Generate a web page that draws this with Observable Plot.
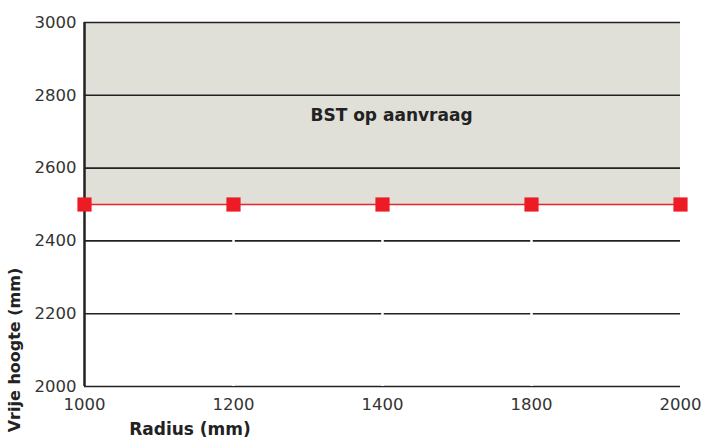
<!DOCTYPE html>
<html>
<head>
<meta charset="utf-8">
<script src="https://cdn.jsdelivr.net/npm/d3@7"></script>
<script src="https://cdn.jsdelivr.net/npm/@observablehq/plot@0.6"></script>
<style>
  body { margin: 0; background: #fff; }
  #chart svg { display: block; }
</style>
</head>
<body>
<div id="chart"></div>
<script>
// Data
const radius = [1000, 1200, 1400, 1800, 2000];          // x categories (mm)
const clearance = [2500, 2500, 2500, 2500, 2500];        // vrije hoogte (mm)
const yTicks = [2000, 2200, 2400, 2600, 2800, 3000];
const yMax = 3000;
const annotation = [{x: 1400, y: 2745, label: "BST op aanvraag"}];
const xTitle = "Radius (mm)";
const yTitle = "Vrije hoogte (mm)";

const rows = radius.map((r, i) => ({x: r, y: clearance[i], top: yMax}));
const inner = radius.slice(1, -1);

const font = "DejaVu Sans, sans-serif";
const W = 704, H = 439;

const plot = Plot.plot({
  width: W,
  height: H,
  marginLeft: 84,
  marginRight: 24,
  marginTop: 22,
  marginBottom: 53,
  style: {fontFamily: font, fontSize: "16px", color: "#333", background: "#fff"},
  x: {type: "point", domain: radius, padding: 0, label: null},
  y: {domain: [2000, 3000], label: null},
  marks: [
    Plot.areaY(rows, {x: "x", y1: "y", y2: "top", fill: "#e0dfd8", curve: "linear"}),
    Plot.ruleY(yTicks, {stroke: "#222", strokeWidth: 1.6}),
    Plot.ruleX(inner, {y1: 2000, y2: 2500, stroke: "#fff", strokeWidth: 2.5}),
    Plot.ruleX([radius[0]], {y1: 2000, y2: 3000, stroke: "#222", strokeWidth: 2.5}),
    Plot.lineY(rows, {x: "x", y: "y", stroke: "#e8262b", strokeWidth: 1.5}),
    Plot.dot(rows, {x: "x", y: "y", symbol: "square", r: 8, fill: "#ed1c24", stroke: "none"}),
    Plot.text(annotation, {x: "x", y: "y", text: "label", dx: 9, fontWeight: "bold", fontSize: 17, fill: "#222"}),
    Plot.axisY(yTicks, {tickSize: 0, tickPadding: 8, fontSize: 16.5, fill: "#333", label: null, tickFormat: d => String(d)}),
    Plot.axisX(radius, {tickSize: 0, tickPadding: 12, fontSize: 16.5, fill: "#333", label: null, tickFormat: d => String(d)})
  ]
});

const svg = d3.select(plot);
svg.append("text")
  .attr("x", 190).attr("y", 435)
  .attr("text-anchor", "middle")
  .attr("font-family", font).attr("font-weight", "bold").attr("font-size", "17px")
  .attr("fill", "#222")
  .text(xTitle);
svg.append("text")
  .attr("transform", "translate(20,350) rotate(-90)")
  .attr("text-anchor", "middle")
  .attr("font-family", font).attr("font-weight", "bold").attr("font-size", "16px")
  .attr("fill", "#222")
  .text(yTitle);

document.getElementById("chart").appendChild(plot);
</script>
</body>
</html>
